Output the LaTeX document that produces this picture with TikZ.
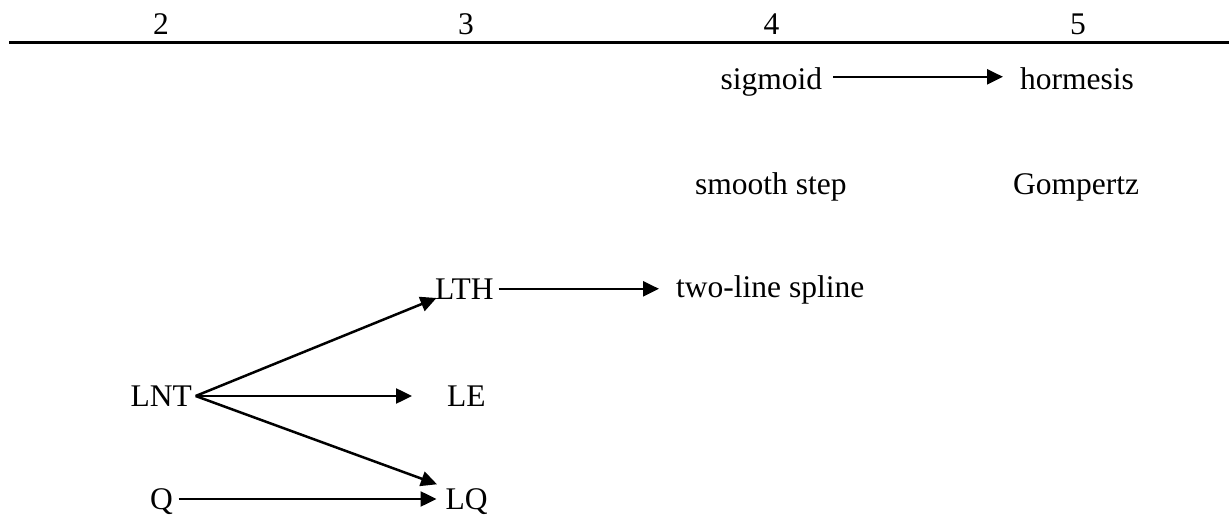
\documentclass[tikz,border=0pt]{standalone}
\usepackage{fontspec}
\setmainfont{Liberation Serif}
\usetikzlibrary{arrows.meta,calc}
\begin{document}
\begin{tikzpicture}[x=1pt,y=-1pt,
  lbl/.style={inner sep=0pt,anchor=base west,text height=21pt,text depth=0pt,font=\fontsize{31.5}{36}\selectfont},
  num/.style={inner sep=0pt,anchor=base,font=\fontsize{31.5}{36}\selectfont},
  arr/.style={line width=2.5pt,-{Triangle[length=16pt,width=15pt]}}]
\useasboundingbox (0,0) rectangle (1229,518);
% header
\node[num] (c2) at (161,35) {2};
\node[num] (c3) at (466,35) {3};
\node[num] (c4) at (771.5,35) {4};
\node[num] (c5) at (1078,35) {5};
\coordinate (rl) at (9,43);
\coordinate (rr) at (1229,43);
\draw[line width=3pt] (rl) -- (rr);
% nodes
\node[lbl] (sig) at (720.5,89.3) {sigmoid};
\node[lbl] (hor) at (1020,89.3) {hormesis};
\node[lbl] (ss) at (695,195) {smooth step};
\node[lbl] (gom) at (1013,195) {Gompertz};
\node[lbl] (lth) at (435,299.3) {LTH};
\node[lbl] (tls) at (676,298) {two-line spline};
\node[lbl] (lnt) at (130.5,406.5) {LNT};
\node[lbl] (le) at (447,406.5) {LE};
\node[lbl] (q) at (150,509.5) {Q};
\node[lbl] (lq) at (445.5,509.5) {LQ};
% connectors
\draw[arr] ([shift={(11pt,2pt)}]sig.east) -- ([shift={(-17pt,2pt)}]sig.east -| hor.west);
\draw[arr] ([xshift=5pt]lth.east) -- ([xshift=-17pt]lth.east -| tls.west);
\draw[arr] ([xshift=3.5pt]lnt.east) -- ([shift={(1.5pt,1.5pt)}]lth.south west);
\draw[arr] ([xshift=3.5pt]lnt.east) -- ([xshift=-35pt]le.west);
\draw[arr] ([xshift=3.5pt]lnt.east) -- ([shift={(-8.5pt,4pt)}]lq.north west);
\draw[arr] ([xshift=5.5pt]q.east) -- ([xshift=-9pt]lq.west);
\end{tikzpicture}
\end{document}
